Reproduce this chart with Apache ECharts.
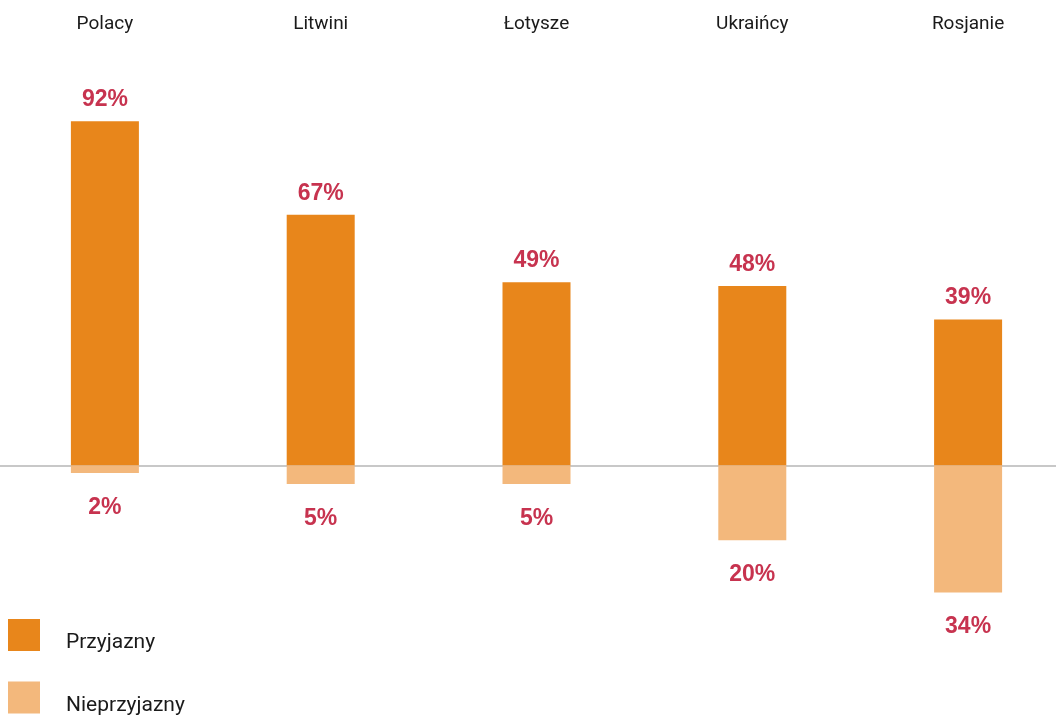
<!DOCTYPE html>
<html lang="pl">
<head>
<meta charset="UTF-8">
<title>Przyjazny / Nieprzyjazny</title>
<style>
    html, body { margin: 0; padding: 0; background: #fff; }
    #chart { width: 1056px; height: 719px; }
</style>
</head>
<body>
<div id="chart"></div>
<script src="https://cdn.jsdelivr.net/npm/echarts@6/dist/echarts.min.js"></script>
<script>
// dane
var categories = ['Polacy', 'Litwini', 'Łotysze', 'Ukraińcy', 'Rosjanie'];
var friendly = [92, 67, 49, 48, 39];
var unfriendly = [2, 5, 5, 20, 34];

var labelColor = '#c7334f';
var labelFont = 'Liberation Sans, Arial, sans-serif';

var chart = echarts.init(document.getElementById('chart'));

var option = {
    animation: false,
    legend: {
        orient: 'vertical',
        left: 8,
        top: 619,
        padding: 0,
        itemWidth: 32,
        itemHeight: 32,
        itemGap: 28,
        icon: 'rect',
        formatter: '{t|{name}}',
        textStyle: {
            rich: {
                t: {
                    fontFamily: 'Roboto',
                    fontSize: 21,
                    color: '#1a1a1a',
                    padding: [16, 0, 0, 21]
                }
            }
        },
        data: ['Przyjazny', 'Nieprzyjazny']
    },
    grid: {
        left: -3,
        right: -20,
        top: 54,
        height: 561,
        outerBoundsMode: 'none'
    },
    xAxis: [
        {
            type: 'category',
            position: 'top',
            data: categories,
            axisLine: { show: false, onZero: false },
            axisTick: { show: false },
            axisLabel: {
                margin: 20,
                fontFamily: 'Roboto',
                fontSize: 19,
                color: '#1a1a1a'
            }
        },
        {
            // linia zero
            type: 'category',
            position: 'bottom',
            data: categories,
            axisLine: { show: true, onZero: true, lineStyle: { color: '#c8c8c8', width: 2 } },
            axisTick: { show: false },
            axisLabel: { show: false }
        }
    ],
    yAxis: {
        type: 'value',
        min: -40,
        max: 110,
        show: false,
        splitLine: { show: false }
    },
    series: [
        {
            name: 'Przyjazny',
            type: 'bar',
            barWidth: 68,
            barGap: '-100%',
            itemStyle: { color: '#e8861b' },
            label: {
                show: true,
                position: 'top',
                distance: 10,
                formatter: function (p) { return Math.abs(p.value) + '%'; },
                fontFamily: labelFont,
                fontWeight: 'bold',
                fontSize: 23,
                color: labelColor
            },
            data: friendly
        },
        {
            name: 'Nieprzyjazny',
            type: 'bar',
            barWidth: 68,
            barGap: '-100%',
            itemStyle: { color: '#f3b87c' },
            label: {
                show: true,
                position: 'bottom',
                distance: 23,
                formatter: function (p) { return Math.abs(p.value) + '%'; },
                fontFamily: labelFont,
                fontWeight: 'bold',
                fontSize: 23,
                color: labelColor
            },
            data: unfriendly.map(function (v) { return -v; })
        }
    ]
};

chart.setOption(option);
</script>
</body>
</html>
